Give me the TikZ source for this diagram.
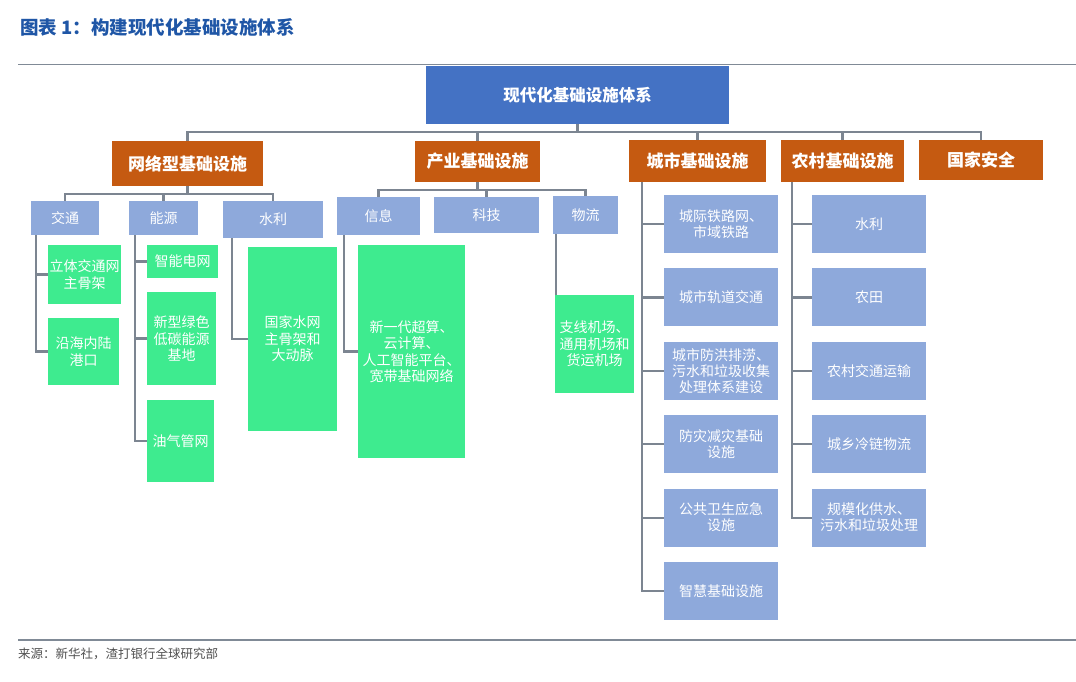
\documentclass[tikz,border=0pt]{standalone}
\usepackage{fontspec}
\setmainfont{Noto Sans CJK SC}
\usepackage{tikz}
\usetikzlibrary{positioning}
\usepackage{xcolor}
\definecolor{titleblue}{RGB}{31,86,166}
\definecolor{topblue}{RGB}{68,114,196}
\definecolor{catorange}{RGB}{197,90,17}
\definecolor{subblue}{RGB}{142,169,219}
\definecolor{leafgreen}{RGB}{62,235,143}
\definecolor{linkgray}{RGB}{124,133,145}
\definecolor{rulegray}{RGB}{128,138,150}
\definecolor{notegray}{RGB}{80,80,80}
\tikzstyle{topbox}    = [rectangle, inner sep=0pt, fill=topblue, text=white, font=\fontsize{16.5}{19}\selectfont\bfseries]
\tikzstyle{catbox}    = [rectangle, inner sep=0pt, fill=catorange, text=white, font=\fontsize{17}{20}\selectfont\bfseries]
\tikzstyle{subbox}    = [rectangle, inner sep=0pt, fill=subblue, text=white, font=\fontsize{14}{16}\selectfont]
\tikzstyle{greenleaf} = [rectangle, inner sep=0pt, align=center, fill=leafgreen, text=white, font=\fontsize{14}{16.5}\selectfont]
\tikzstyle{blueleaf}  = [rectangle, inner sep=0pt, align=center, fill=subblue, text=white, minimum width=114pt, minimum height=58pt, font=\fontsize{14}{16}\selectfont]
\tikzstyle{link}      = [draw=linkgray, line width=2.2pt]
\tikzstyle{rule}      = [draw=rulegray, line width=1.2pt]

\begin{document}
\begin{tikzpicture}[x=1pt, y=-1pt]
  \useasboundingbox (0,0) rectangle (1076,682);

  % Title and rules
  \node[anchor=west, inner sep=0pt, text=titleblue, font=\fontsize{18.5}{21}\selectfont\bfseries] (title) at (20,27) {图表 1：构建现代化基础设施体系};
  \draw[rule] (18,64.5) -- (1076,64.5);
  \draw[rule] (18,640) -- (1076,640);
  \node[anchor=west, inner sep=0pt, text=notegray, font=\fontsize{12.5}{14}\selectfont] (source) at (18,654) {来源：新华社，渣打银行全球研究部};

  % Root
  \node[topbox, minimum width=303pt, minimum height=58pt] (root) at (577.5,95) {现代化基础设施体系};

  % Categories
  \node[catbox, minimum width=151pt, minimum height=45pt] (net) at (187.5,163.5) {网络型基础设施};
  \node[catbox, minimum width=125pt, minimum height=41pt] (ind) at (477.5,161.5) {产业基础设施};
  \node[catbox, minimum width=137pt, minimum height=42pt] (city) at (697.5,161) {城市基础设施};
  \node[catbox, minimum width=123pt, minimum height=42pt] (rural) at (842.5,161) {农村基础设施};
  \node[catbox, minimum width=124pt, minimum height=40pt] (safe) at (981,160) {国家安全};

  % Network sub-groups
  \node[subbox, minimum width=68pt, minimum height=34pt] (traffic) at (65,218) {交通};
  \node[subbox, minimum width=69pt, minimum height=34pt] (energy) at (163.5,218) {能源};
  \node[subbox, minimum width=100pt, minimum height=37pt] (water) at (273,219.5) {水利};

  % Industry sub-groups
  \node[subbox, minimum width=83pt, minimum height=38pt] (info) at (378.5,216) {信息};
  \node[subbox, minimum width=105pt, minimum height=36pt] (tech) at (486.5,215) {科技};
  \node[subbox, minimum width=65pt, minimum height=38pt] (logis) at (585.5,215) {物流};

  % Green leaves
  \node[greenleaf, minimum width=73pt, minimum height=59pt] (tr1) at (84.5,274.5) {立体交通网\\主骨架};
  \node[greenleaf, minimum width=71pt, minimum height=67pt] (tr2) at (83.5,351.5) {沿海内陆\\港口};
  \node[greenleaf, minimum width=71pt, minimum height=33pt] (en1) at (182.5,261.5) {智能电网};
  \node[greenleaf, minimum width=69pt, minimum height=93pt] (en2) at (181.5,338.5) {新型绿色\\低碳能源\\基地};
  \node[greenleaf, minimum width=67pt, minimum height=82pt] (en3) at (180.5,441) {油气管网};
  \node[greenleaf, minimum width=89pt, minimum height=184pt] (wa1) at (292.5,339) {国家水网\\主骨架和\\大动脉};
  \node[greenleaf, minimum width=107pt, minimum height=213pt] (in1) at (411.5,351.5) {新一代超算、\\云计算、\\人工智能平台、\\宽带基础网络};
  \node[greenleaf, minimum width=79pt, minimum height=98pt] (lo1) at (594.5,344) {支线机场、\\通用机场和\\货运机场};

  % City column
  \node[blueleaf] (c1) at (721,224) {城际铁路网、\\市域铁路};
  \node[blueleaf, below=15pt of c1] (c2) {城市轨道交通};
  \node[blueleaf, below=15pt of c2] (c3) {城市防洪排涝、\\污水和垃圾收集\\处理体系建设};
  \node[blueleaf, below=15pt of c3] (c4) {防灾减灾基础\\设施};
  \node[blueleaf, below=15pt of c4] (c5) {公共卫生应急\\设施};
  \node[blueleaf, below=15pt of c5] (c6) {智慧基础设施};

  % Rural column
  \node[blueleaf] (r1) at (869,224) {水利};
  \node[blueleaf, below=15pt of r1] (r2) {农田};
  \node[blueleaf, below=15pt of r2] (r3) {农村交通运输};
  \node[blueleaf, below=15pt of r3] (r4) {城乡冷链物流};
  \node[blueleaf, below=15pt of r4] (r5) {规模化供水、\\污水和垃圾处理};

  % Connections
  \coordinate (bus) at (577.5,132);
  \draw[link] (root) -- (bus);
  \foreach \n in {net,ind,city,rural,safe}
    \draw[link] (bus) -| (\n);
  \coordinate (netbus) at (187.5,194);
  \draw[link] (net) -- (netbus);
  \foreach \n in {traffic,energy,water}
    \draw[link] (netbus) -| (\n);
  \coordinate (indbus) at (477.5,190);
  \draw[link] (ind) -- (indbus);
  \foreach \n in {info,tech,logis}
    \draw[link] (indbus) -| (\n);
  \draw[link] ([xshift=-29pt]traffic.south) |- (tr1);
  \draw[link] ([xshift=-29pt]traffic.south) |- (tr2);
  \foreach \n in {en1,en2,en3}
    \draw[link] ([xshift=-28.5pt]energy.south) |- (\n);
  \draw[link] ([xshift=-41pt]water.south) |- (wa1);
  \draw[link] ([xshift=-34.5pt]info.south) |- (in1);
  \draw[link] ([xshift=-29.5pt]logis.south) -- ([xshift=-38.5pt]lo1.north);
  \foreach \n in {c1,c2,c3,c4,c5,c6}
    \draw[link] ([xshift=-55.5pt]city.south) |- (\n);
  \foreach \n in {r1,r2,r3,r4,r5}
    \draw[link] ([xshift=-50.5pt]rural.south) |- (\n);
\end{tikzpicture}
\end{document}
